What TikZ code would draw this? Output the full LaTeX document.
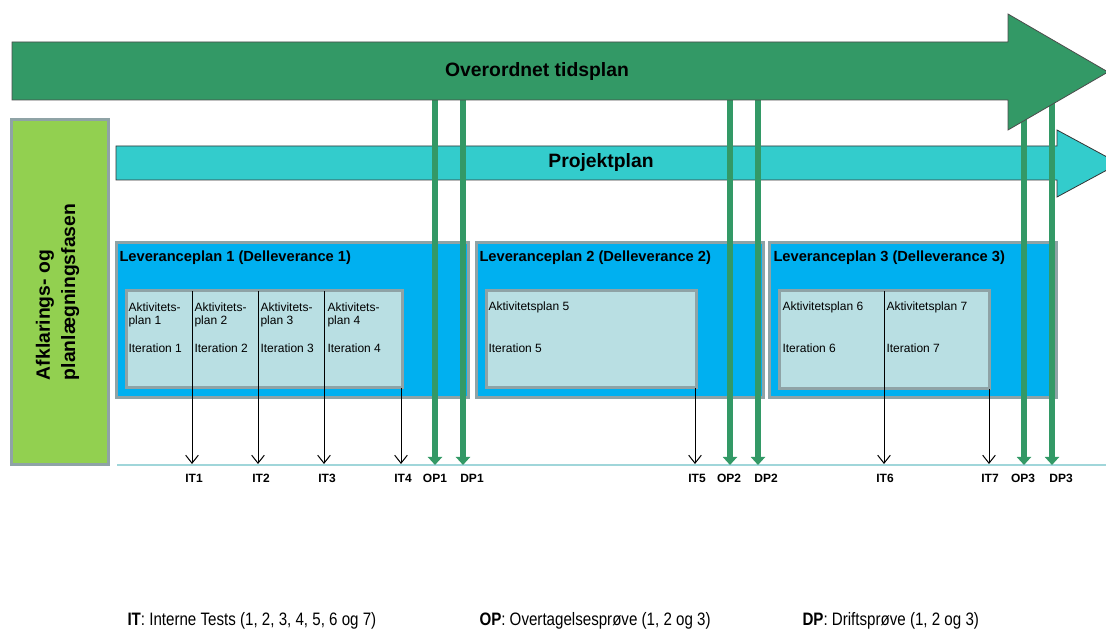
\documentclass[tikz,border=0pt]{standalone}
\usepackage{fontspec}
\setmainfont{Liberation Sans}
\newfontfamily\narrowfont[FakeStretch=0.84]{Liberation Sans}
\usetikzlibrary{arrows.meta}

\definecolor{tidsgreen}{RGB}{51,153,102}
\definecolor{projteal}{RGB}{51,204,204}
\definecolor{levblue}{RGB}{0,176,240}
\definecolor{aktlight}{RGB}{185,223,227}
\definecolor{boxgray}{RGB}{143,163,166}
\definecolor{fasegreen}{RGB}{146,208,80}
\definecolor{baseteal}{RGB}{160,214,218}

\tikzset{every picture/.style={line width=0.75pt},
  levbox/.style={rectangle, draw=boxgray, fill=levblue, line width=2.25pt, anchor=north west, inner sep=0pt, outer sep=0pt},
  aktbox/.style={rectangle, draw=boxgray, fill=aktlight, line width=2.25pt, anchor=north west, inner sep=0pt, outer sep=0pt},
  levtitle/.style={anchor=west, inner sep=0.75pt, font=\fontsize{11}{13}\selectfont\bfseries},
  akttext/.style={anchor=north west, inner sep=0.75pt, align=left, font=\fontsize{9}{10}\selectfont},
  iteration/.style={anchor=west, inner sep=0.75pt, font=\fontsize{9}{10}\selectfont},
  milestone/.style={inner sep=0.75pt, font=\fontsize{9}{10}\selectfont\bfseries},
  itarrow/.style={-{Straight Barb[length=6pt,width=9.5pt]}, line width=0.75pt},
  proevearrow/.style={draw=tidsgreen, line width=4.5pt, -{Triangle[length=6pt,width=10.5pt]}},
  legend/.style={anchor=west, inner sep=0pt, font=\narrowfont\fontsize{13.5}{16}\selectfont}
}

\begin{document}
\begin{tikzpicture}[x=0.75pt,y=0.75pt,yscale=-1,xscale=1]
\clip (0,0) rectangle (1106,630);

%Shape: Right Arrow (Projektplan)
\draw [fill=projteal, draw=black!80, line width=0.6pt] (116,146) -- (1057,146) -- (1057,130) -- (1119,163.5) -- (1057,197) -- (1057,180) -- (116,180) -- cycle ;
\node [inner sep=0.75pt, font=\fontsize{14.5}{17}\selectfont\bfseries] (projektplan) at (601,163) {Projektplan};

%Shape: Rectangle (fase)
\draw [fill=fasegreen, draw=boxgray, line width=2.25pt] (11,120) rectangle (108,465) ;
\node [rotate=90, align=left, inner sep=0.75pt, font=\fontsize{14.5}{19}\selectfont\bfseries] (fase) at (57.5,292) {Afklarings- og\\planlægningsfasen};

%Shape: Rectangle (leverancer)
\node [levbox, minimum width=264pt, minimum height=116.25pt] (lev1) at (116,243) {};
\node [levbox, minimum width=215.25pt, minimum height=116.25pt] (lev2) at (476,243) {};
\node [levbox, minimum width=215.25pt, minimum height=116.25pt] (lev3) at (769,243) {};
%Shape: Rectangle (aktivitetsplaner)
\node [aktbox, minimum width=207pt, minimum height=72.75pt] (akt1) at (126,291) {};
\node [aktbox, minimum width=157.5pt, minimum height=72.75pt] (akt5) at (486,291) {};
\node [aktbox, minimum width=157.5pt, minimum height=73.5pt] (akt67) at (779,291) {};

% Text Node
\node [levtitle] (lev1-titel) at (118,258) {Leveranceplan 1 (Delleverance 1)};
\node [levtitle] (lev2-titel) at (478,258) {Leveranceplan 2 (Delleverance 2)};
\node [levtitle] (lev3-titel) at (772,258) {Leveranceplan 3 (Delleverance 3)};

% Text Node
\node [akttext] (akt1-tekst) at (127,301) {Aktivitets-\\plan 1};
\node [akttext] (akt2-tekst) at (193,301) {Aktivitets-\\plan 2};
\node [akttext] (akt3-tekst) at (259,301) {Aktivitets-\\plan 3};
\node [akttext] (akt4-tekst) at (326,301) {Aktivitets-\\plan 4};
\node [iteration] (iter1) at (127,348) {Iteration 1};
\node [iteration] (iter2) at (193,348) {Iteration 2};
\node [iteration] (iter3) at (259,348) {Iteration 3};
\node [iteration] (iter4) at (326,348) {Iteration 4};
\node [iteration] (akt5-tekst) at (487,307) {Aktivitetsplan 5};
\node [iteration] (iter5) at (487,348) {Iteration 5};
\node [iteration] (akt6-tekst) at (781,307) {Aktivitetsplan 6};
\node [iteration] (iter6) at (781,348) {Iteration 6};
\node [iteration] (akt7-tekst) at (885,307) {Aktivitetsplan 7};
\node [iteration] (iter7) at (885,348) {Iteration 7};

%Straight Lines (tidslinje)
\coordinate (base-start) at (117,465);
\coordinate (base-slut) at (1106,465);
\draw [draw=baseteal, line width=1pt] (base-start) -- (base-slut) ;

\coordinate (it1) at (192,464);
\coordinate (it2) at (258,464);
\coordinate (it3) at (324,464);
\coordinate (it4) at (401,464);
\coordinate (it5) at (695,464);
\coordinate (it6) at (884,464);
\coordinate (it7) at (989,464);

%Straight Lines (interne tests)
\draw [itarrow] (it1 |- akt1.north) -- (it1) ;
\draw [itarrow] (it2 |- akt1.north) -- (it2) ;
\draw [itarrow] (it3 |- akt1.north) -- (it3) ;
\draw [itarrow] (it4 |- akt1.south) -- (it4) ;
\draw [itarrow] (it5 |- akt5.south) -- (it5) ;
\draw [itarrow] (it6 |- akt67.north) -- (it6) ;
\draw [itarrow] (it7 |- akt67.south) -- (it7) ;

%Straight Lines (overtagelse og drift)
\coordinate (tids-bund) at (0,96);
\coordinate (op1) at (435,465);
\coordinate (dp1) at (463,465);
\coordinate (op2) at (730,465);
\coordinate (dp2) at (758,465);
\coordinate (op3) at (1024,465);
\coordinate (dp3) at (1052,465);
\foreach \p in {op1,dp1,op2,dp2,op3,dp3}
  \draw [proevearrow] (\p |- tids-bund) -- (\p) ;

%Shape: Right Arrow (Overordnet tidsplan)
\draw [fill=tidsgreen, draw=black!70, line width=0.6pt] (12,42) -- (1008,42) -- (1008,14) -- (1108,72) -- (1008,130) -- (1008,100) -- (12,100) -- cycle ;
\node [inner sep=0.75pt, font=\fontsize{14.5}{17}\selectfont\bfseries] (tidsplan) at (537,72) {Overordnet tidsplan};

% Text Node
\node [milestone] (lab-it1) at (194,478) {IT1};
\node [milestone] (lab-it2) at (261,478) {IT2};
\node [milestone] (lab-it3) at (327,478) {IT3};
\node [milestone] (lab-it4) at (403,478) {IT4};
\node [milestone] (lab-op1) at (435,478) {OP1};
\node [milestone] (lab-dp1) at (472,478) {DP1};
\node [milestone] (lab-it5) at (697,478) {IT5};
\node [milestone] (lab-op2) at (729,478) {OP2};
\node [milestone] (lab-dp2) at (766,478) {DP2};
\node [milestone] (lab-it6) at (885,478) {IT6};
\node [milestone] (lab-it7) at (990,478) {IT7};
\node [milestone] (lab-op3) at (1023,478) {OP3};
\node [milestone] (lab-dp3) at (1061,478) {DP3};

% Text Node
\node [legend] (legend-it) at (127,621) {\bfseries IT\mdseries: Interne Tests (1, 2, 3, 4, 5, 6 og 7)};
\node [legend] (legend-op) at (479,621) {\bfseries OP\mdseries: Overtagelsesprøve (1, 2 og 3)};
\node [legend] (legend-dp) at (802,621) {\bfseries DP\mdseries: Driftsprøve (1, 2 og 3)};

\end{tikzpicture}
\end{document}
